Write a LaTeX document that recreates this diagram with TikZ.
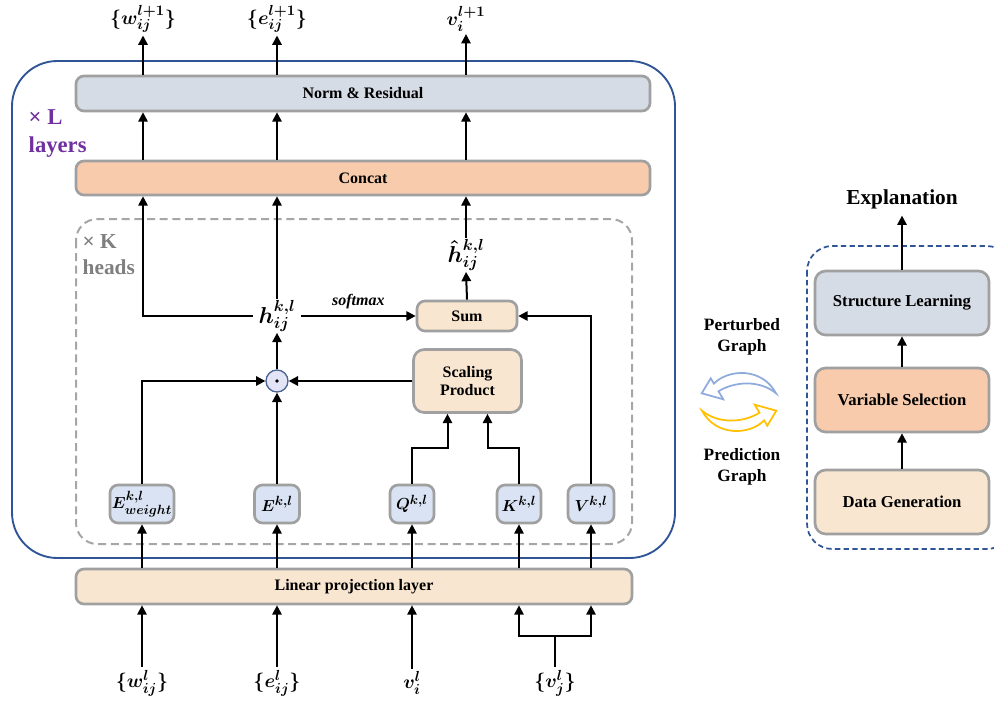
\documentclass[tikz,border=0pt]{standalone}
\usepackage{fontspec}
\setmainfont{Liberation Serif}
\DeclareMathSizes{13}{13}{10}{8}
\DeclareMathSizes{14.5}{14.5}{11}{9}
\DeclareMathSizes{16}{16}{12}{10}
\usetikzlibrary{arrows.meta,calc}
\definecolor{normc}{HTML}{D6DCE5}
\definecolor{concatc}{HTML}{F8CBAD}
\definecolor{peachc}{HTML}{F8E6D0}
\definecolor{qblue}{HTML}{DAE3F3}
\definecolor{boxgray}{HTML}{A0A0A0}
\definecolor{outerblue}{HTML}{2F5597}
\definecolor{dashgray}{HTML}{A6A6A6}
\definecolor{layerpurple}{HTML}{7030A0}
\definecolor{headsgray}{HTML}{7F7F7F}
\definecolor{arrowblue}{HTML}{8FAADC}
\definecolor{arrowgold}{HTML}{FFC000}
\definecolor{dotfill}{HTML}{E4E4F7}
\definecolor{dotborder}{HTML}{4A6491}
\begin{document}
\begin{tikzpicture}[x=0.75pt,y=-0.75pt,
  arr/.style={-{Triangle[length=7pt,width=7pt]}, line width=1.5pt},
  ln/.style={line width=1.5pt},
  box/.style={draw=boxgray, line width=2pt, rounded corners=6pt, inner sep=0pt, align=center,
    font=\bfseries\fontsize{12}{14}\selectfont},
  rbox/.style={box, rounded corners=8pt, minimum width={174*0.75pt}, minimum height={64*0.75pt},
    font=\bfseries\fontsize{12.5}{14}\selectfont},
  mbox/.style={box, fill=qblue, minimum height={38*0.75pt}, font=\boldmath\fontsize{13}{15}\selectfont},
  mlab/.style={font=\boldmath\fontsize{14.5}{16}\selectfont, inner sep=2pt},
  hlab/.style={font=\boldmath\fontsize{16}{18}\selectfont, inner xsep=4pt, inner ysep=1pt},
  side/.style={font=\bfseries\fontsize{13}{15.5}\selectfont, align=center},
  xarrow/.style={line width=1.3pt, fill=white, line join=miter}
]
\useasboundingbox (0,0) rectangle (994,702);
\clip (0,0) rectangle (994,702);

% containers
\draw[outerblue, line width=1.4pt, rounded corners=34pt] (12,61) rectangle (675,558);
\draw[dashgray, line width=1.5pt, dash pattern=on 6pt off 3.5pt, rounded corners=16pt] (76,219) rectangle (632,544);
\draw[outerblue, line width=1.3pt, dash pattern=on 4pt off 2.5pt, rounded corners=19pt] (807,246) rectangle (1012,549);

% layer labels
\node[anchor=west, align=left, text=layerpurple, font=\bfseries\fontsize{17}{21}\selectfont] (llab) at (24,134) {× L\\layers};
\node[anchor=west, align=left, text=headsgray, font=\bfseries\fontsize{16}{19.5}\selectfont] (klab) at (78,255) {× K\\heads};

% big boxes
\node[box, fill=normc, minimum width={574*0.75pt}, minimum height={35*0.75pt}] (norm) at (363,93.5) {Norm \& Residual};
\node[box, fill=concatc, minimum width={574*0.75pt}, minimum height={34*0.75pt}] (concat) at (363,178) {Concat};
\node[box, fill=peachc, minimum width={556*0.75pt}, minimum height={35*0.75pt}] (lin) at (354,586.5) {Linear projection layer};

% top labels
\node[mlab] (wout) at (143,19) {$\{w_{ij}^{l+1}\}$};
\node[mlab] (eout) at (277,19) {$\{e_{ij}^{l+1}\}$};
\node[mlab] (vout) at (466,19) {$v_{i}^{l+1}$};

% inner nodes
\node[hlab] (h) at (277,316) {$h_{ij}^{k,l}$};
\node[hlab] (hhat) at (466,255) {$\hat{h}_{ij}^{k,l}$};
\node[box, fill=peachc, minimum width={100*0.75pt}, minimum height={30*0.75pt}] (sum) at (467,316) {Sum};
\node[box, fill=peachc, rounded corners=8pt, minimum width={108*0.75pt}, minimum height={63*0.75pt}] (scal) at (467.5,381) {Scaling\\Product};
\node[circle, draw=dotborder, fill=dotfill, line width=1pt, minimum size={22*0.75pt}, inner sep=0pt] (dot) at (277,381) {};
\fill (dot.center) circle[radius=1.4pt];

\node[mbox, minimum width={64*0.75pt}] (Ew) at (142,504) {$E_{weight}^{k,l}$};
\node[mbox, minimum width={45*0.75pt}] (E) at (277,504) {$E^{k,l}$};
\node[mbox, minimum width={44*0.75pt}] (Q) at (412,504) {$Q^{k,l}$};
\node[mbox, minimum width={44*0.75pt}] (K) at (519,504) {$K^{k,l}$};
\node[mbox, minimum width={46*0.75pt}] (V) at (591,504) {$V^{k,l}$};

% bottom labels
\node[mlab] (win) at (142,683) {$\{w_{ij}^{l}\}$};
\node[mlab] (ein) at (277,683) {$\{e_{ij}^{l}\}$};
\node[mlab] (vin) at (412,683) {$v_{i}^{l}$};
\node[mlab] (vjin) at (555,683) {$\{v_{j}^{l}\}$};

% arrows top
\foreach \n in {wout,eout,vout}{
  \draw[arr] (norm.north -| \n) -- (\n.south);
  \draw[arr] (concat.north -| \n) -- (norm.south -| \n);
}
\draw[arr] (h.west) -| (concat.south -| wout);
\draw[arr] (h.north) -- (concat.south -| h);
\draw[arr] (hhat.north) -- (concat.south -| hhat);
\draw[arr] (sum.north) -- (hhat.south);
\draw[arr] (h.east) -- node[above=1pt, font=\bfseries\itshape\fontsize{12}{14}\selectfont] {softmax} (sum.west);
\draw[arr] (V.north) |- (sum.east);
\draw[arr] (dot.north) -- (h.south);
\draw[arr] (Ew.north) |- (dot.west);
\draw[arr] (E.north) -- (dot.south);
\draw[arr] (scal.west) -- (dot.east);
\coordinate (qk) at (0,448);
\coordinate (sq) at ([xshift=-15pt]scal.south);
\coordinate (sk) at ([xshift=15pt]scal.south);
\draw[arr] (Q.north) -- (Q.north |- qk) -| (sq);
\draw[arr] (K.north) -- (K.north |- qk) -| (sk);

% linear layer to heads
\foreach \n in {Ew,E,Q,K,V}{
  \draw[arr] (lin.north -| \n) -- (\n.south);
}
% inputs
\draw[arr] (win.north) -- (lin.south -| win);
\draw[arr] (ein.north) -- (lin.south -| ein);
\draw[arr] (vin.north) -- (lin.south -| vin);
\coordinate (br) at (555,636);
\draw[ln] (vjin.north) -- (br);
\draw[arr] (br) -| (lin.south -| K);
\draw[arr] (br) -| (lin.south -| V);

% right panel
\node[rbox, fill=normc] (sl) at (902,303) {Structure Learning};
\node[rbox, fill=concatc] (vs) at (902,400) {Variable Selection};
\node[rbox, fill=peachc] (dg) at (902,502) {Data Generation};
\node[font=\bfseries\fontsize{16}{18}\selectfont, inner ysep=5pt] (expl) at (902,199) {Explanation};
\draw[arr] (dg.north) -- (vs.south);
\draw[arr] (vs.north) -- (sl.south);
\draw[arr] (sl.north) -- (expl.south);

\node[side] (pg) at (742,337) {Perturbed\\Graph};
\node[side] (pr) at (742,467) {Prediction\\Graph};

% curved exchange arrows
\draw[arrowblue, xarrow]
  (701.7,393.3) -- (710.7,378.3) -- (713.9,383.6)
  .. controls (728,369) and (762,367) .. (776,393.3)
  .. controls (760,380) and (735,381) .. (718.5,391.3)
  -- (723.3,399.3) -- cycle;
\begin{scope}[rotate around={180:(739,402)}]
\draw[arrowgold, xarrow]
  (701.7,393.3) -- (710.7,378.3) -- (713.9,383.6)
  .. controls (728,369) and (762,367) .. (776,393.3)
  .. controls (760,380) and (735,381) .. (718.5,391.3)
  -- (723.3,399.3) -- cycle;
\end{scope}
\end{tikzpicture}
\end{document}
